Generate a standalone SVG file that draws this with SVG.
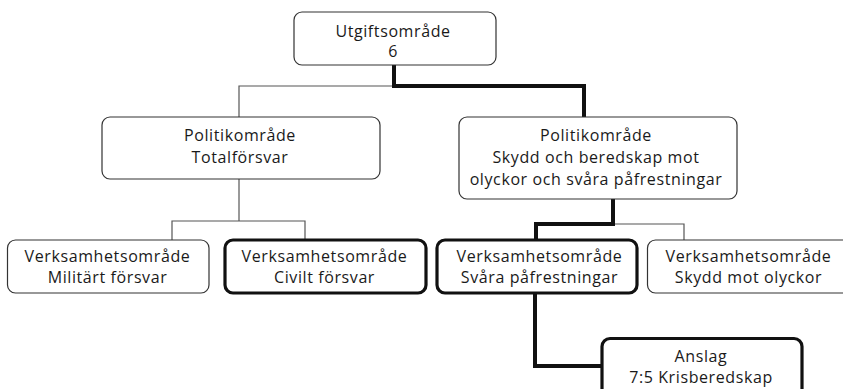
<svg xmlns="http://www.w3.org/2000/svg" width="843" height="389" viewBox="0 0 843 389">
<style>
.bg{fill:#fff}
.box{fill:#fff;stroke:#333;stroke-width:1.2}
.hbox{fill:#fff;stroke:#111;stroke-width:3.2}
.thin{fill:none;stroke:#555;stroke-width:1.2}
.thick{fill:none;stroke:#111;stroke-width:4}
text{font-family:"Open Sans","Liberation Sans",sans-serif;font-size:16px;fill:#1a1a1a;text-anchor:middle;letter-spacing:0.6px}
</style>
<rect class="bg" x="0" y="0" width="843" height="389"/>
<g id="connectors">
<polyline class="thin" points="394,86 239,86 239,117"/>
<polyline class="thin" points="239,179 239,221"/>
<polyline class="thin" points="172,240 172,221 305,221 305,240"/>
<polyline class="thin" points="613,224 684,224 684,240"/>
<polyline class="thick" points="394,65 394,86 584,86 584,117"/>
<polyline class="thick" points="613,199 613,224 536,224 536,240"/>
<polyline class="thick" points="535,293 535,366 602,366"/>
</g>
<g id="n-utgift">
<rect class="box" x="294" y="12" width="202" height="53" rx="8"/>
<text x="393" y="36.5">Utgiftsområde</text>
<text x="393" y="56.5">6</text>
</g>
<g id="n-total">
<rect class="box" x="102" y="117" width="278" height="62" rx="8"/>
<text x="240" y="141">Politikområde</text>
<text x="240" y="163">Totalförsvar</text>
</g>
<g id="n-skydd-beredskap">
<rect class="box" x="459" y="117" width="278" height="82" rx="8"/>
<text x="596" y="141">Politikområde</text>
<text x="596" y="162.5">Skydd och beredskap mot</text>
<text x="596" y="184.5">olyckor och svåra påfrestningar</text>
</g>
<g id="n-militart">
<rect class="box" x="7.5" y="240" width="201.5" height="53" rx="8"/>
<text x="107.5" y="262">Verksamhetsområde</text>
<text x="107.5" y="283">Militärt försvar</text>
</g>
<g id="n-civilt">
<rect class="hbox" x="225" y="240" width="201" height="53" rx="8"/>
<text x="324.5" y="262">Verksamhetsområde</text>
<text x="324.5" y="283">Civilt försvar</text>
</g>
<g id="n-svara">
<rect class="hbox" x="437" y="240" width="200" height="53" rx="8"/>
<text x="539.5" y="262">Verksamhetsområde</text>
<text x="539.5" y="283">Svåra påfrestningar</text>
</g>
<g id="n-skydd-olyckor">
<rect class="box" x="647.5" y="240" width="205" height="53" rx="8"/>
<text x="748.5" y="262">Verksamhetsområde</text>
<text x="748.5" y="283">Skydd mot olyckor</text>
</g>
<g id="n-anslag">
<rect class="hbox" x="602" y="338.5" width="200" height="60" rx="8"/>
<text x="701" y="361.5">Anslag</text>
<text x="701" y="383">7:5 Krisberedskap</text>
</g>
</svg>
